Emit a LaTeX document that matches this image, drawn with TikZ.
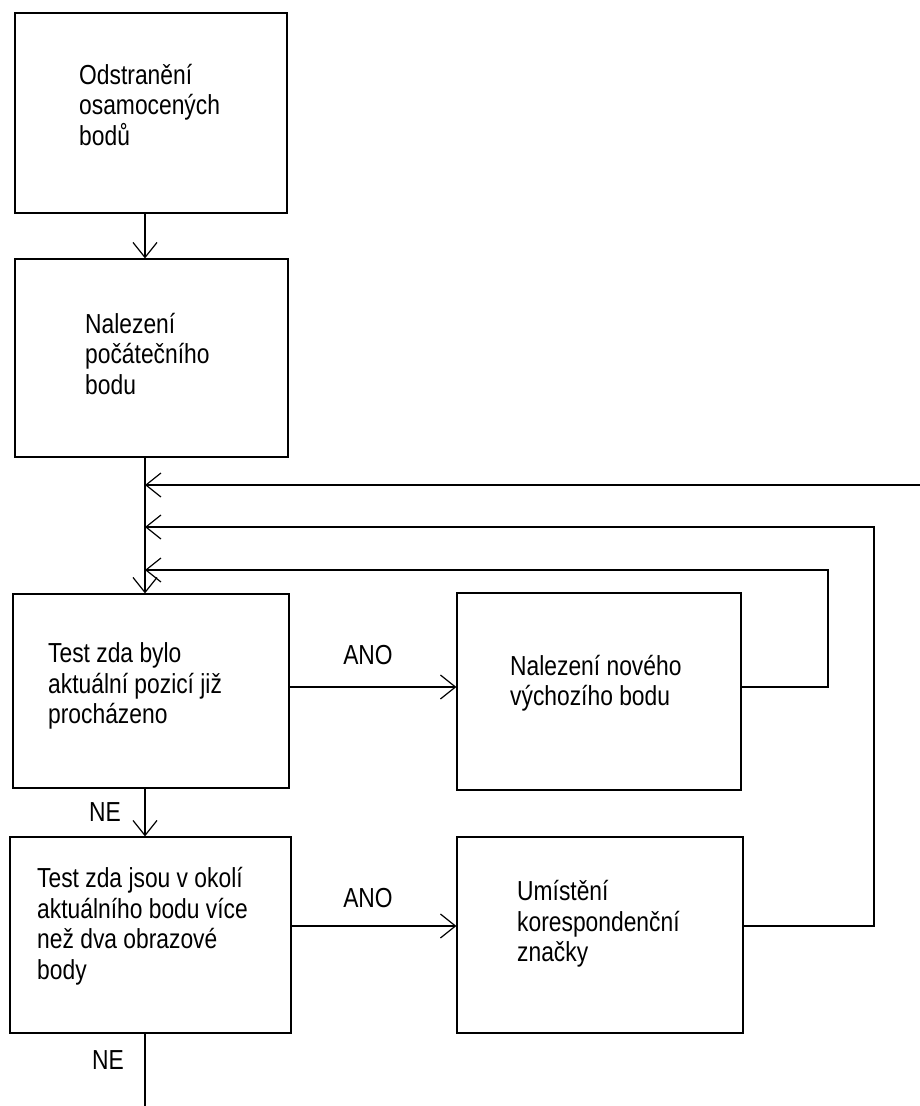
\documentclass[tikz,border=0pt]{standalone}
\usepackage{fontspec}
\setmainfont{Liberation Sans}
\newfontfamily\uzkyfont{Liberation Sans}[FakeStretch=0.83]
\usetikzlibrary{arrows.meta,calc}

\tikzset{
  blok/.style={draw,line width=1.2pt,inner sep=0pt},
  popis/.style={anchor=west,align=left,inner sep=0pt,font=\uzkyfont\fontsize{27.5}{30.5}\selectfont},
  vetev/.style={inner sep=0pt,font=\uzkyfont\fontsize{27.5}{30.5}\selectfont},
  spoj/.style={line width=1.2pt}
}

\begin{document}
\begin{tikzpicture}[x=1pt,y=-1pt,>={Straight Barb[length=15pt,width=24pt]}]
      \useasboundingbox (0,0) rectangle (920,1106);
      \coordinate (osa) at (145,0);
      \coordinate (ano1) at (0,687);
      \coordinate (ano2) at (0,926);
      \def\smyckaA{828}
      \def\smyckaB{874}

      \node [blok,minimum width=272pt,minimum height=200pt] (odstr) at (151,113) {};
      \node [blok,minimum width=273pt,minimum height=198pt] (pocat) at (151.5,358) {};
      \node [blok,minimum width=276pt,minimum height=194pt] (test1) at (151,691) {};
      \node [blok,minimum width=284pt,minimum height=197pt] (novy) at (599,691.5) {};
      \node [blok,minimum width=281pt,minimum height=196pt] (test2) at (150.5,935) {};
      \node [blok,minimum width=286pt,minimum height=196pt] (znacka) at (600,935) {};

      \node [popis] (t-odstr) at (79,105) {Odstranění\\osamocených\\bodů};
      \node [popis] (t-pocat) at (85,354) {Nalezení\\počátečního\\bodu};
      \node [popis] (t-test1) at (48,686) {Test zda bylo\\aktuální pozicí již\\procházeno};
      \node [popis] (t-novy) at (510,683) {Nalezení nového\\výchozího bodu};
      \node [popis] (t-test2) at (37,926) {Test zda jsou v okolí\\aktuálního bodu více\\než dva obrazové\\body};
      \node [popis] (t-znacka) at (517,924) {Umístění\\korespondenční\\značky};

      \node [vetev] (ano-a) at (368,655) {ANO};
      \node [vetev] (ano-b) at (368,898) {ANO};
      \node [vetev] (ne-a) at (105,812) {NE};
      \node [vetev] (ne-b) at (108,1060) {NE};

      \coordinate (vstup) at (920,485);
      \coordinate (konec) at (145,1106);

      \draw [spoj,->] (odstr.south -| osa) -- (pocat.north -| osa);
      \draw [spoj,->] (pocat.south -| osa) -- (test1.north -| osa);
      \draw [spoj,->] (test1.south -| osa) -- (test2.north -| osa);
      \draw [spoj] (test2.south -| osa) -- (konec);
      \draw [spoj,->] (test1.east |- ano1) -- (novy.west |- ano1);
      \draw [spoj,->] (test2.east |- ano2) -- (znacka.west |- ano2);
      \draw [spoj,->] (vstup) -- (vstup -| osa);
      \draw [spoj,->] (novy.east |- ano1) -- (\smyckaA,687) -- (\smyckaA,570) -- ($(osa)+(0,570)$);
      \draw [spoj,->] (znacka.east |- ano2) -- (\smyckaB,926) -- (\smyckaB,527) -- ($(osa)+(0,527)$);
    \end{tikzpicture}
\end{document}
